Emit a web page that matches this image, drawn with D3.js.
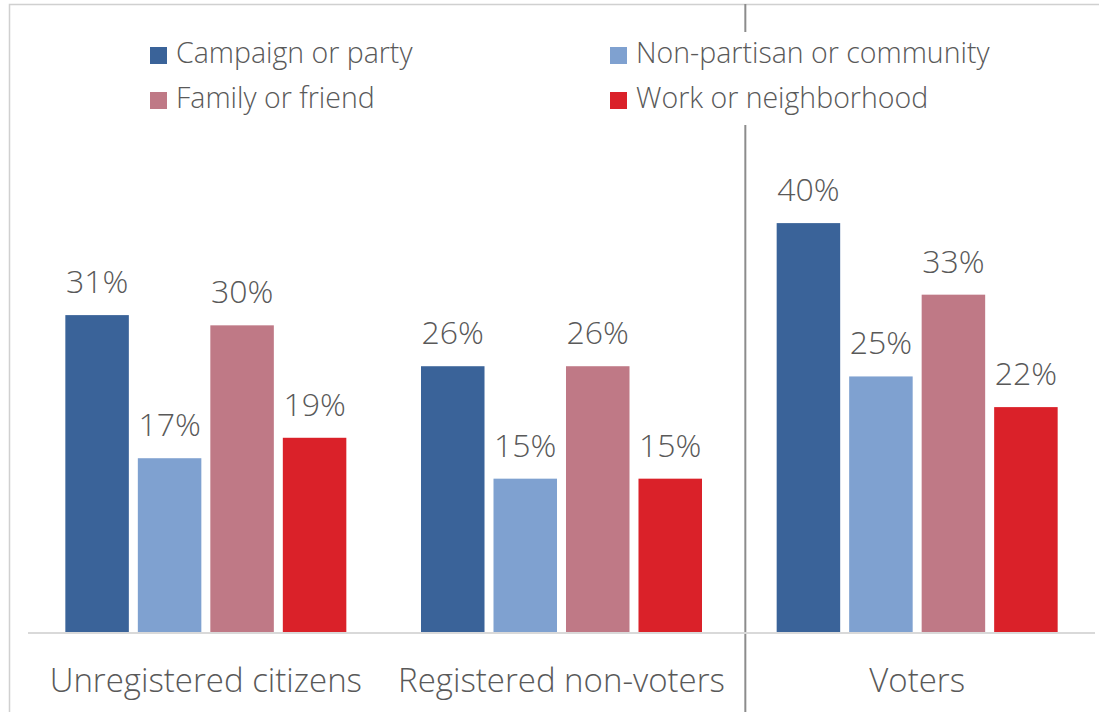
<!DOCTYPE html>
<html>
<head>
<meta charset="utf-8">
<script src="https://cdn.jsdelivr.net/npm/d3@7"></script>
<style>
  html, body { margin: 0; padding: 0; background: #fff; }
  svg { display: block; }
  text { font-family: "Open Sans", "Noto Sans", sans-serif; font-weight: 300; fill: #595959; }
</style>
</head>
<body>
<svg id="chart" width="1099" height="712"></svg>
<script>
// Source of outreach contact, by registration / voting status (percent)
const groups = ["Unregistered citizens", "Registered non-voters", "Voters"];
const seriesNames = ["Campaign or party", "Non-partisan or community", "Family or friend", "Work or neighborhood"];
const campaignOrParty = [31, 26, 40];
const nonPartisanOrCommunity = [17, 15, 25];
const familyOrFriend = [30, 26, 33];
const workOrNeighborhood = [19, 15, 22];
const seriesColors = ["#3A6399", "#7FA1D0", "#BF7986", "#DA2129"];

const seriesValues = [campaignOrParty, nonPartisanOrCommunity, familyOrFriend, workOrNeighborhood];

const svg = d3.select("#chart");
const W = 1099, H = 712;
const plot = { left: 28, right: 1095, base: 632, top: 172 };

// chart frame (extends past the right and bottom edges)
svg.append("rect")
  .attr("x", 9.5).attr("y", 4.5)
  .attr("width", W + 20).attr("height", H + 20)
  .attr("fill", "#fff")
  .attr("stroke", "#d0d0d0").attr("stroke-width", 1.5);

const x0 = d3.scaleBand().domain(groups).range([plot.left, plot.right]).padding(0);
const x1 = d3.scaleBand().domain(d3.range(seriesNames.length))
  .range([0, x0.bandwidth()])
  .paddingInner(0.124).paddingOuter(0.515);
const y = d3.scaleLinear().domain([0, 45]).range([plot.base, plot.top]);

// separator between non-voters and voters
const sepX = x0("Voters") + 6;
svg.append("line")
  .attr("x1", sepX).attr("x2", sepX)
  .attr("y1", 4).attr("y2", H)
  .attr("stroke", "#8c8c8c").attr("stroke-width", 2);

// bars
const g = svg.append("g");
groups.forEach((grp, gi) => {
  seriesValues.forEach((vals, si) => {
    const v = vals[gi];
    const bx = x0(grp) + x1(si);
    g.append("rect")
      .attr("x", bx).attr("y", y(v))
      .attr("width", x1.bandwidth()).attr("height", y(0) - y(v))
      .attr("fill", seriesColors[si]);
    g.append("text")
      .attr("x", bx + x1.bandwidth() / 2).attr("y", y(v) - 22)
      .attr("text-anchor", "middle")
      .attr("font-size", 32)
      .text(v + "%");
  });
});

// category axis
svg.append("line")
  .attr("x1", plot.left).attr("x2", plot.right)
  .attr("y1", plot.base + 1).attr("y2", plot.base + 1)
  .attr("stroke", "#d9d9d9").attr("stroke-width", 2);

svg.append("g").selectAll("text").data(groups).join("text")
  .attr("x", d => x0(d) + x0.bandwidth() / 2)
  .attr("y", 692)
  .attr("text-anchor", "middle")
  .attr("font-size", 33)
  .text(d => d);

// legend (white panel masks the separator)
svg.append("rect").attr("x", 140).attr("y", 32).attr("width", 860).attr("height", 93).attr("fill", "#fff");
const legendPos = [[150, 47], [610, 47], [150, 92], [610, 92]];
seriesNames.forEach((name, si) => {
  const [lx, ly] = legendPos[si];
  svg.append("rect").attr("x", lx).attr("y", ly).attr("width", 17).attr("height", 17).attr("fill", seriesColors[si]);
  svg.append("text").attr("x", lx + 26).attr("y", ly + 16)
    .attr("font-size", 28.5)
    .text(name);
});
</script>
</body>
</html>
